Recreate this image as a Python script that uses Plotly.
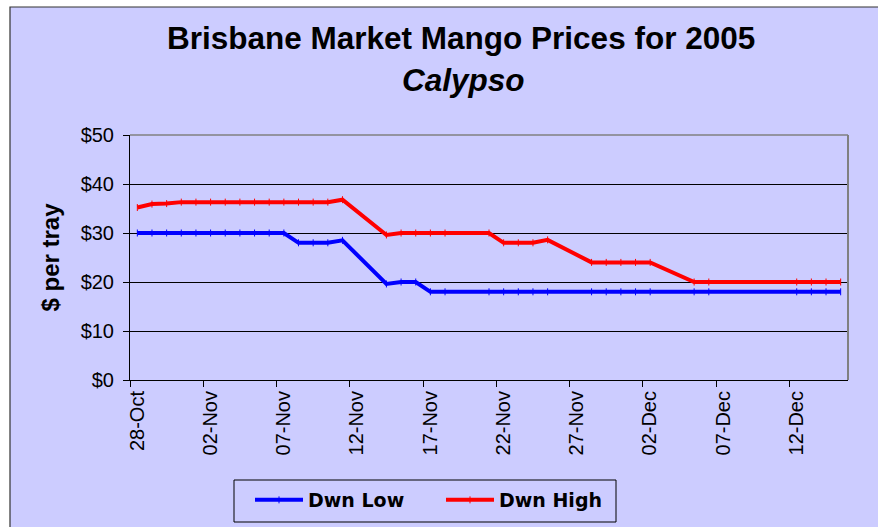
import pandas as pd
import plotly.graph_objects as go

# ---- data ----
dates = [
    "2005-10-28", "2005-10-29", "2005-10-30", "2005-10-31", "2005-11-01", "2005-11-02",
    "2005-11-03", "2005-11-04", "2005-11-05", "2005-11-06", "2005-11-07", "2005-11-08",
    "2005-11-09", "2005-11-10", "2005-11-11", "2005-11-14", "2005-11-15", "2005-11-16",
    "2005-11-17", "2005-11-18", "2005-11-21", "2005-11-22", "2005-11-23", "2005-11-24",
    "2005-11-25", "2005-11-28", "2005-11-29", "2005-11-30", "2005-12-01", "2005-12-02",
    "2005-12-05", "2005-12-06", "2005-12-12", "2005-12-13", "2005-12-14", "2005-12-15",
]
dwn_low = [
    30, 30, 30, 30, 30, 30,
    30, 30, 30, 30, 30, 28,
    28, 28, 28.5, 19.6, 20, 20,
    18, 18, 18, 18, 18, 18,
    18, 18, 18, 18, 18, 18,
    18, 18, 18, 18, 18, 18,
]
dwn_high = [
    35.2, 35.9, 36.0, 36.3, 36.3, 36.3,
    36.3, 36.3, 36.3, 36.3, 36.3, 36.3,
    36.3, 36.3, 36.8, 29.6, 30, 30,
    30, 30, 30, 28, 28, 28,
    28.6, 24, 24, 24, 24, 24,
    20, 20, 20, 20, 20, 20,
]
series_names = ["Dwn Low", "Dwn High"]
series_colors = ["#0000FF", "#FF0000"]
title_main = "Brisbane Market Mango Prices for 2005"
title_sub = "Calypso"
y_title = "$ per tray"
y_tick_values = [0, 10, 20, 30, 40, 50]
y_tick_labels = ["$0", "$10", "$20", "$30", "$40", "$50"]

# points sit in the middle of each day slot (Excel "between categories")
x_vals = pd.to_datetime(dates) + pd.Timedelta(hours=12)

BG = "#CCCCFF"
FONT = "Arial, Liberation Sans, sans-serif"

fig = go.Figure()
for name, vals, col in zip(series_names, [dwn_low, dwn_high], series_colors):
    fig.add_trace(go.Scatter(
        x=x_vals, y=vals, name=name, mode="lines+markers",
        line=dict(color=col, width=4),
        marker=dict(symbol="line-ns", size=5, color=col, line=dict(color=col, width=1)),
    ))

# body margin is removed in post_script, so the figure fills the window from (0, 0)
OFF = 0
W, H = 878, 527
L, R, T, B = 130, 30, 135, 147
pw, ph = W - L - R, H - T - B


def px_x(win):
    return (win - OFF - L) / pw


def px_y(win):
    return (H - B - (win - OFF)) / ph


shapes = [
    # chart area (white strip on left/top outside it)
    dict(type="rect", xref="paper", yref="paper",
         x0=px_x(10), x1=px_x(900), y0=px_y(560), y1=px_y(7),
         fillcolor=BG, line=dict(color="#333333", width=1.2), layer="below"),
    # legend box
    dict(type="rect", xref="paper", yref="paper",
         x0=px_x(234), x1=px_x(616), y0=px_y(522), y1=px_y(480),
         fillcolor=BG, line=dict(color="black", width=1), layer="below"),
    # plot area border: top and right edges grey
    dict(type="line", xref="paper", yref="paper", x0=0, x1=1, y0=1, y1=1,
         line=dict(color="#808080", width=1.5), layer="above"),
    dict(type="line", xref="paper", yref="paper", x0=1, x1=1, y0=0, y1=1,
         line=dict(color="#808080", width=2), layer="above"),
]

annotations = [
    dict(text="<b>" + title_main + "</b>", xref="paper", yref="paper",
         x=px_x(461), y=px_y(38), xanchor="center", yanchor="middle", showarrow=False,
         font=dict(family=FONT, size=31.5, color="black")),
    dict(text="<b><i>" + title_sub + "</i></b>", xref="paper", yref="paper",
         x=px_x(463), y=px_y(80), xanchor="center", yanchor="middle", showarrow=False,
         font=dict(family=FONT, size=31.5, color="black")),
]

fig.update_layout(
    width=W, height=H,
    margin=dict(l=L, r=R, t=T, b=B, pad=0, autoexpand=False),
    paper_bgcolor="white", plot_bgcolor=BG,
    shapes=shapes, annotations=annotations,
    font=dict(family=FONT, size=20, color="black"),
    showlegend=True,
    legend=dict(
        orientation="h", x=px_x(250), y=px_y(481), xanchor="left", yanchor="top",
        bgcolor="rgba(0,0,0,0)", borderwidth=0,
        font=dict(family="DejaVu Sans", size=19, color="black", weight="bold"),
        itemwidth=48, entrywidth=128, entrywidthmode="pixels",
    ),
    xaxis=dict(
        type="date",
        range=["2005-10-28", "2005-12-16"],
        tick0="2005-10-28", dtick=5 * 86400000,
        tickformat="%d-%b", tickangle=-90,
        ticks="outside", ticklen=6, tickcolor="black",
        ticklabelshift=7, ticklabelstandoff=-4,
        showline=True, linecolor="black", linewidth=1,
        showgrid=False, zeroline=False,
        tickfont=dict(family=FONT, size=20, color="black"),
    ),
    yaxis=dict(
        range=[0, 50], tickmode="array", tickvals=y_tick_values, ticktext=y_tick_labels,
        ticks="outside", ticklen=6, tickcolor="black",
        ticklabelstandoff=5,
        showline=True, linecolor="black", linewidth=1,
        showgrid=True, gridcolor="black", gridwidth=1, zeroline=False,
        tickfont=dict(family=FONT, size=20, color="black"),
        title=dict(text=y_title, standoff=14,
                   font=dict(family=FONT, size=24, color="black", weight="bold")),
    ),
)

fig.write_html(
    "out.html",
    config={"displayModeBar": False},
    post_script="document.body.style.margin='0';document.body.style.overflow='hidden';",
)
